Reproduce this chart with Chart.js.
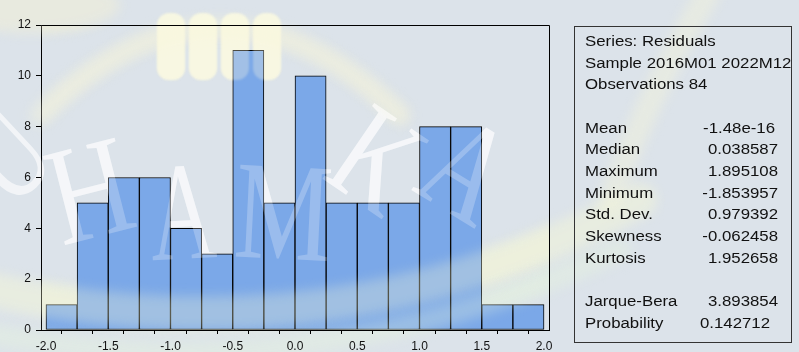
<!DOCTYPE html>
<html>
<head>
<meta charset="utf-8">
<script src="https://cdn.jsdelivr.net/npm/chart.js@4.4.1/dist/chart.umd.min.js"></script>
<style>
  html, body { margin: 0; padding: 0; background: #dce3ea; }
  #wrap { width: 799px; height: 352px; position: relative; }
</style>
</head>
<body>
<div id="wrap"><canvas id="hist" width="799" height="352"></canvas></div>
<script>
// Histogram of residuals: bin centres (width 0.25) and counts
const binCenters = [-1.875, -1.625, -1.375, -1.125, -0.875, -0.625, -0.375, -0.125,
                    0.125, 0.375, 0.625, 0.875, 1.125, 1.375, 1.625, 1.875];
const counts = [1, 5, 6, 6, 4, 3, 11, 5, 10, 5, 5, 5, 8, 8, 1, 1];

// Axis ticks
const xTickValues = [-2.0, -1.75, -1.5, -1.25, -1.0, -0.75, -0.5, -0.25, 0.0,
                     0.25, 0.5, 0.75, 1.0, 1.25, 1.5, 1.75, 2.0];
const xTickLabels = ['-2.0', '', '-1.5', '', '-1.0', '', '-0.5', '', '0.0',
                     '', '0.5', '', '1.0', '', '1.5', '', '2.0'];
const yTickValues = [0, 2, 4, 6, 8, 10, 12];

// Descriptive statistics panel
const statsHeader = ['Series: Residuals', 'Sample 2016M01 2022M12', 'Observations 84'];
const statNames = ['Mean', 'Median', 'Maximum', 'Minimum', 'Std. Dev.', 'Skewness', 'Kurtosis'];
const statValues = ['-1.48e-16', '0.038587', '1.895108', '-1.853957', '0.979392', '-0.062458', '1.952658'];
const testNames = ['Jarque-Bera', 'Probability'];
const testValues = ['3.893854', '0.142712'];

const FONT = "'Liberation Sans', Arial, sans-serif";

// Soft yellow swooshes of the logo watermark
function drawSwooshes(ctx, alpha) {
  ctx.save();
  ctx.globalAlpha = alpha;
  ctx.filter = 'blur(6px)';
  ctx.lineCap = 'round';
  ctx.strokeStyle = '#f7f8d4';
  // lower sweep rising to the right
  ctx.lineWidth = 34;
  ctx.beginPath();
  ctx.moveTo(-30, 285);
  ctx.quadraticCurveTo(330, 370, 640, 200);
  ctx.stroke();
  ctx.strokeStyle = '#e4f1de';
  ctx.lineWidth = 22;
  ctx.beginPath();
  ctx.moveTo(-30, 330);
  ctx.quadraticCurveTo(300, 400, 620, 250);
  ctx.stroke();
  // upper arch behind the pillars
  ctx.strokeStyle = '#f4f3da';
  ctx.lineWidth = 20;
  ctx.beginPath();
  ctx.moveTo(40, 115);
  ctx.quadraticCurveTo(220, -60, 400, 115);
  ctx.stroke();
  // diagonal ray on the right
  ctx.lineWidth = 24;
  ctx.beginPath();
  ctx.moveTo(710, -10);
  ctx.quadraticCurveTo(650, 90, 610, 200);
  ctx.stroke();
  // top-left glow
  ctx.fillStyle = '#f6f2d2';
  ctx.beginPath();
  ctx.ellipse(30, 5, 90, 28, 0, 0, Math.PI * 2);
  ctx.fill();
  ctx.restore();
}

function drawPillars(ctx, alpha) {
  ctx.save();
  ctx.globalAlpha = alpha;
  ctx.filter = 'blur(1px)';
  ctx.fillStyle = '#fcfae0';
  [157, 189, 221, 253].forEach(x => {
    ctx.beginPath();
    ctx.roundRect(x, 13, 28, 67, 12);
    ctx.fill();
  });
  ctx.restore();
}

function drawLetters(ctx, alpha) {
  ctx.save();
  ctx.globalAlpha = alpha;
  ctx.fillStyle = '#ffffff';
  ctx.font = "140px 'Liberation Serif', 'DejaVu Serif', serif";
  ctx.textAlign = 'center';
  ctx.textBaseline = 'middle';
  const letters = [['U', 10, 160, -0.75, 0.7], ['H', 92, 200, -0.25, 0.8], ['A', 183, 222, -0.05, 0.65],
                   ['M', 283, 222, 0.05, 0.78], ['K', 372, 168, 0.6, 0.75], ['A', 462, 178, 0.55, 0.75]];
  letters.forEach(([ch, x, y, r, sx]) => {
    ctx.save();
    ctx.translate(x, y);
    ctx.rotate(r);
    ctx.scale(sx, 1);
    ctx.fillText(ch, 0, 0);
    ctx.restore();
  });
  ctx.restore();
}

const decorPlugin = {
  id: 'decor',
  beforeDraw(chart) {
    const ctx = chart.ctx;
    ctx.save();
    ctx.fillStyle = '#dce3ea';
    ctx.fillRect(0, 0, chart.width, chart.height);
    ctx.restore();
    drawSwooshes(ctx, 0.45);
    drawPillars(ctx, 0.85);
    drawLetters(ctx, 0.62);
  },
  afterDatasetsDraw(chart) {
    const ctx = chart.ctx;
    const a = chart.chartArea;
    ctx.save();
    ctx.beginPath();
    ctx.rect(a.left, a.top, a.right - a.left, a.bottom - a.top);
    ctx.clip();
    drawSwooshes(ctx, 0.3);
    drawPillars(ctx, 0.3);
    drawLetters(ctx, 0.24);
    ctx.restore();
    // top and right frame of the plot
    ctx.save();
    ctx.strokeStyle = '#000';
    ctx.lineWidth = 1;
    ctx.beginPath();
    ctx.moveTo(Math.round(a.left) + 0.5, Math.round(a.top) + 0.5);
    ctx.lineTo(Math.round(a.right) + 0.5, Math.round(a.top) + 0.5);
    ctx.lineTo(Math.round(a.right) + 0.5, Math.round(a.bottom) + 0.5);
    ctx.stroke();
    ctx.restore();
  },
  afterDraw(chart) {
    const ctx = chart.ctx;
    ctx.save();
    // statistics box
    ctx.strokeStyle = '#333';
    ctx.lineWidth = 1;
    ctx.strokeRect(574.5, 26.5, 217, 316);
    ctx.fillStyle = '#111';
    ctx.font = '14px ' + FONT;
    ctx.textBaseline = 'middle';
    const sx = 1.2;
    const x0 = 585, xr = 778, y0 = 42, dy = 21.7;
    const put = (t, x, y, align) => {
      ctx.save();
      ctx.translate(x, y);
      ctx.scale(sx, 1);
      ctx.textAlign = align;
      ctx.fillText(t, 0, 0);
      ctx.restore();
    };
    statsHeader.forEach((t, i) => put(t, x0, y0 + i * dy, 'left'));
    statNames.forEach((t, i) => {
      const y = y0 + (i + 4) * dy;
      put(t, x0, y, 'left');
      put(statValues[i], xr - (i === 0 ? 3 : 0), y, 'right');
    });
    testNames.forEach((t, i) => {
      const y = y0 + (i + 12) * dy;
      put(t, x0, y, 'left');
      put(testValues[i], xr - (i === 1 ? 8 : 0), y, 'right');
    });
    ctx.restore();
  }
};

new Chart(document.getElementById('hist'), {
  type: 'bar',
  data: {
    datasets: [{
      data: binCenters.map((c, i) => ({ x: c, y: counts[i] })),
      backgroundColor: '#7ba8e8',
      borderColor: '#000',
      borderWidth: 1,
      borderSkipped: false,
      barPercentage: 1.0,
      categoryPercentage: 1.0
    }]
  },
  options: {
    responsive: false,
    animation: false,
    events: [],
    layout: { padding: { left: 0, top: 25, right: 250, bottom: 0 } },
    plugins: { legend: { display: false }, tooltip: { enabled: false } },
    scales: {
      x: {
        type: 'linear',
        min: -2.04,
        max: 2.04,
        offset: false,
        afterBuildTicks(scale) { scale.ticks = xTickValues.map(v => ({ value: v })); },
        afterFit(scale) { scale.height = 22; },
        ticks: {
          autoSkip: false,
          maxRotation: 0,
          padding: 5,
          color: '#111',
          font: { family: FONT, size: 12 },
          callback: (v, i) => xTickLabels[i]
        },
        grid: { drawOnChartArea: false, drawTicks: true, tickLength: 4, color: '#000', tickColor: '#000' },
        border: { display: true, color: '#000', width: 1 }
      },
      y: {
        min: 0,
        max: 12,
        afterBuildTicks(scale) { scale.ticks = yTickValues.map(v => ({ value: v })); },
        afterFit(scale) { scale.width = 41; },
        ticks: {
          padding: 5,
          color: '#111',
          font: { family: FONT, size: 12 }
        },
        grid: { drawOnChartArea: false, drawTicks: true, tickLength: 5, color: '#000', tickColor: '#000' },
        border: { display: true, color: '#000', width: 1 }
      }
    }
  },
  plugins: [decorPlugin]
});
</script>
</body>
</html>
